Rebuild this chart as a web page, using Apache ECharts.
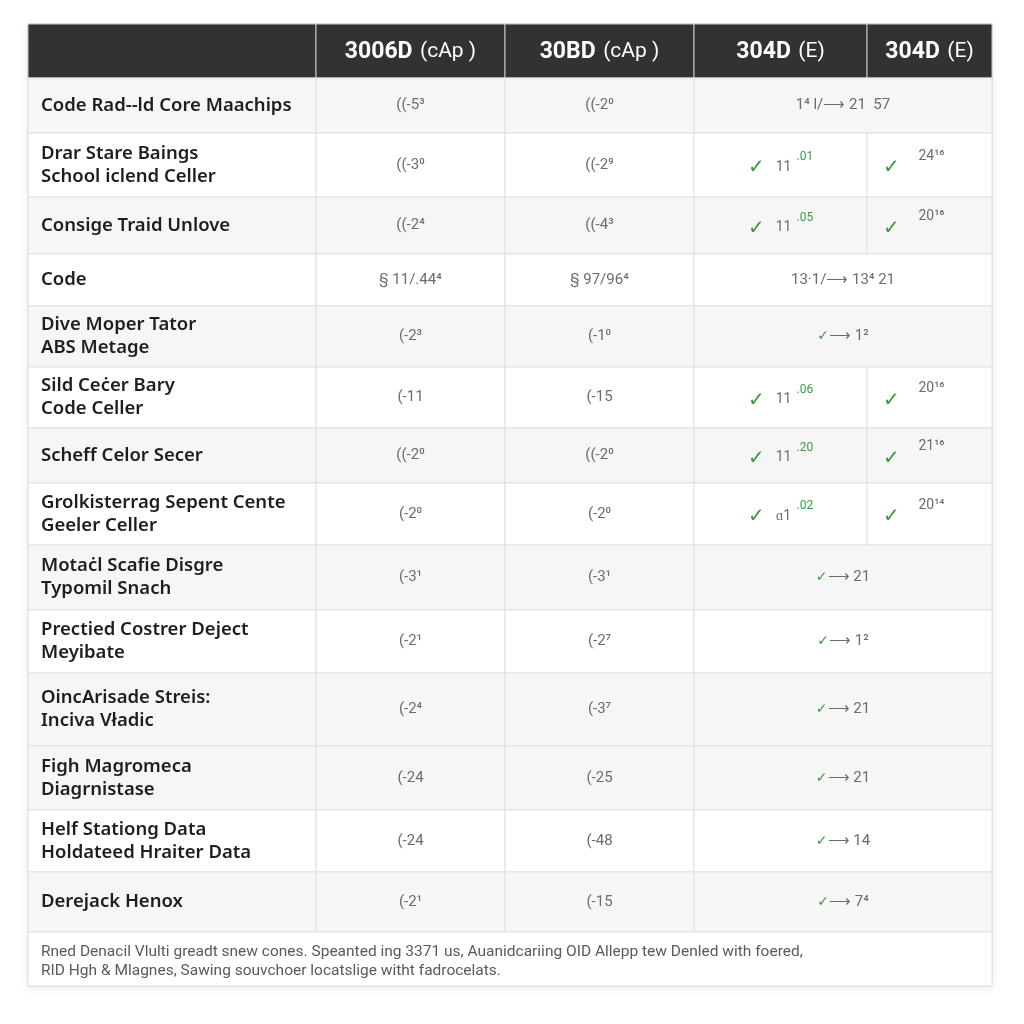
<!DOCTYPE html>
<html>
<head>
<meta charset="utf-8">
<script src="https://cdn.jsdelivr.net/npm/echarts@6/dist/echarts.min.js"></script>
<style>
  html, body { margin: 0; padding: 0; background: #fff; }
  #main { width: 1024px; height: 1024px; }
</style>
</head>
<body>
<div id="main"></div>
<script>
// ---- table content ----
const headers = ['3006D', '30BD', '304D', '304D'];
const headerUnits = ['(cAp )', '(cAp )', '(E)', '(E)'];

const rowLabels = [
  'Code Rad--ld Core Maachips',
  'Drar Stare Baings\nSchool iclend Celler',
  'Consige Traid Unlove',
  'Code',
  'Dive Moper Tator\nABS Metage',
  'Sild Ceċer Bary\nCode Celler',
  'Scheff Celor Secer',
  'Grolkisterrag Sepent Cente\nGeeler Celler',
  'Motaċl Scafie Disgre\nTypomil Snach',
  'Prectied Costrer Deject\nMeyibate',
  'OincArisade Streis:\nInciva Vładic',
  'Figh Magromeca\nDiagrnistase',
  'Helf Stationg Data\nHoldateed Hraiter Data',
  'Derejack Henox'
];

const col1Values = ['((-5³', '((-3⁰', '((-2⁴', '§ 11/.44⁴', '(-2³', '(-11', '((-2⁰',
  '(-2⁰', '(-3¹', '(-2¹', '(-2⁴', '(-24', '(-24', '(-2¹'];
const col2Values = ['((-2⁰', '((-2⁹', '((-4³', '§ 97/96⁴', '(-1⁰', '(-15', '((-2⁰',
  '(-2⁰', '(-3¹', '(-2⁷', '(-3⁷', '(-25', '(-48', '(-15'];

// col3 main text; when col4 is null the cell spans both E columns
const col3Values = ['1⁴ l/⟶ 21  57', '11', '11', '13·1/⟶ 13⁴ 21', '⟶ 1²', '11', '11',
  'ɑ1', '⟶ 21', '⟶ 1²', '⟶ 21', '⟶ 21', '⟶ 14', '⟶ 7⁴'];
const col3Sup = [null, '.01', '.05', null, null, '.06', '.20', '.02', null, null, null, null, null, null];
const col4Values = [null, '24¹⁶', '20¹⁶', null, null, '20¹⁶', '21¹⁶', '20¹⁴', null, null, null, null, null, null];
const col3Check = [false, true, true, false, true, true, true, true, true, true, true, true, true, true];

const footnote = 'Rned Denacil Vlulti greadt snew cones. Speanted ing 3371 us, Auanidcariing OID Allepp tew Denled with foered,\n' +
  'RID Hgh & Mlagnes, Sawing souvchoer locatslige witht fadrocelats.';

// ---- layout ----
const colWidths = [288, 189, 189, 173, 125];
const headerHeight = 54;
const rowHeights = [55, 64, 57, 52, 61, 61, 55, 62, 65, 63, 73, 64, 62, 60];
const footerHeight = 54;
const rowShaded = [1, 0, 1, 0, 1, 0, 1, 0, 1, 0, 1, 1, 0, 1];

const colEdges = [0];
colWidths.forEach(w => colEdges.push(colEdges[colEdges.length - 1] + w));
const rowEdges = [0, headerHeight];
rowHeights.forEach(h => rowEdges.push(rowEdges[rowEdges.length - 1] + h));
rowEdges.push(rowEdges[rowEdges.length - 1] + footerHeight);
const tableW = colEdges[colEdges.length - 1];
const tableH = rowEdges[rowEdges.length - 1];

const GREEN = '#3b9a45';
const GREY = '#6c6c6c';
const LINE = '#e1e1e1';

// build cell list
const cells = [];
cells.push({ value: [0, tableW, 0, tableH], role: 'frame' });
for (let c = 0; c < 5; c++) {
  cells.push({ value: [colEdges[c], colEdges[c + 1], 0, headerHeight], role: 'header', col: c });
}
rowLabels.forEach((label, r) => {
  const y0 = rowEdges[r + 1], y1 = rowEdges[r + 2];
  cells.push({ value: [colEdges[0], colEdges[1], y0, y1], role: 'label', row: r });
  cells.push({ value: [colEdges[1], colEdges[2], y0, y1], role: 'c1', row: r });
  cells.push({ value: [colEdges[2], colEdges[3], y0, y1], role: 'c2', row: r });
  if (col4Values[r] === null) {
    cells.push({ value: [colEdges[3], colEdges[5], y0, y1], role: 'merged', row: r });
  } else {
    cells.push({ value: [colEdges[3], colEdges[4], y0, y1], role: 'split3', row: r });
    cells.push({ value: [colEdges[4], colEdges[5], y0, y1], role: 'split4', row: r });
  }
});
cells.push({ value: [0, tableW, rowEdges[rowEdges.length - 2], tableH], role: 'footer' });

function txt(text, x, y, opts) {
  return {
    type: 'text',
    style: Object.assign({
      text: text, x: x, y: y, align: 'center', verticalAlign: 'middle',
      fill: GREY, font: '15px Roboto'
    }, opts || {})
  };
}

function renderItem(params, api) {
  const cell = cells[params.dataIndex];
  const p0 = api.coord([api.value(0), api.value(2)]);
  const p1 = api.coord([api.value(1), api.value(3)]);
  const x = p0[0], y = p0[1], w = p1[0] - p0[0], h = p1[1] - p0[1];
  const cx = x + w / 2, cy = y + h / 2;
  const children = [];

  if (cell.role === 'frame') {
    return {
      type: 'rect',
      shape: { x: x, y: y, width: w, height: h },
      style: { fill: '#fff', stroke: '#d8d8d8', lineWidth: 1, shadowBlur: 10, shadowColor: 'rgba(0,0,0,0.08)', shadowOffsetY: 2 }
    };
  }

  if (cell.role === 'header') {
    children.push({ type: 'rect', shape: { x: x, y: y, width: w, height: h },
      style: { fill: '#323232', stroke: '#c8c8c8', lineWidth: 1 } });
    if (cell.col > 0) {
      children.push(txt('{b|' + headers[cell.col - 1] + '}  {u|' + headerUnits[cell.col - 1] + '}', cx, cy + 1, {
        fill: '#fff',
        rich: {
          b: { fill: '#fff', color: '#fff', fontSize: 23, fontWeight: 'bold', fontFamily: 'Roboto' },
          u: { fill: '#fff', color: '#fff', fontSize: 21, fontWeight: 'normal', fontFamily: 'Roboto' }
        }
      }));
    }
    return { type: 'group', children: children };
  }

  if (cell.role === 'footer') {
    children.push({ type: 'rect', shape: { x: x, y: y, width: w, height: h },
      style: { fill: '#fff', stroke: LINE, lineWidth: 1 } });
    children.push(txt(footnote, x + 13, cy + 3, { align: 'left', fill: '#5a5a5a', font: '15.5px Roboto', lineHeight: 19 }));
    return { type: 'group', children: children };
  }

  const r = cell.row;
  children.push({ type: 'rect', shape: { x: x, y: y, width: w, height: h },
    style: { fill: rowShaded[r] ? '#f6f6f6' : '#ffffff', stroke: LINE, lineWidth: 1 } });

  if (cell.role === 'label') {
    children.push(txt(rowLabels[r], x + 13, cy, { align: 'left', fill: '#1e1e1e', font: '600 18.5px "Noto Sans"', lineHeight: 23 }));
  } else if (cell.role === 'c1') {
    children.push(txt(col1Values[r], cx, cy));
  } else if (cell.role === 'c2') {
    children.push(txt(col2Values[r], cx, cy));
  } else if (cell.role === 'merged') {
    if (col3Check[r]) {
      children.push(txt('{ck|✓}{t|' + col3Values[r] + '}', cx, cy, {
        rich: {
          ck: { fill: GREEN, color: GREEN, fontSize: 14, fontWeight: 'bold', fontFamily: 'DejaVu Sans' },
          t: { fill: GREY, color: GREY, fontSize: 15, fontFamily: 'Roboto' }
        }
      }));
    } else {
      children.push(txt(col3Values[r], cx, cy));
    }
  } else if (cell.role === 'split3') {
    children.push(txt('✓', cx - 24, cy + 3, { fill: GREEN, font: 'bold 20px "DejaVu Sans"' }));
    children.push(txt(col3Values[r], cx + 3, cy + 2, { font: '14px Roboto' }));
    children.push(txt(col3Sup[r], cx + 16, cy - 8, { align: 'left', fill: GREEN, font: '12px Roboto' }));
  } else if (cell.role === 'split4') {
    children.push(txt('✓', cx - 38, cy + 3, { fill: GREEN, font: 'bold 20px "DejaVu Sans"' }));
    children.push(txt(col4Values[r], cx + 2, cy - 9, { font: '14px Roboto' }));
  }
  return { type: 'group', children: children };
}

const chart = echarts.init(document.getElementById('main'));
chart.setOption({
  animation: false,
  grid: { left: 28, top: 24, width: tableW, height: tableH },
  xAxis: { type: 'value', min: 0, max: tableW, show: false },
  yAxis: { type: 'value', min: 0, max: tableH, inverse: true, show: false },
  series: [{
    type: 'custom',
    silent: true,
    renderItem: renderItem,
    encode: { x: [0, 1], y: [2, 3] },
    data: cells
  }]
});
</script>
</body>
</html>
